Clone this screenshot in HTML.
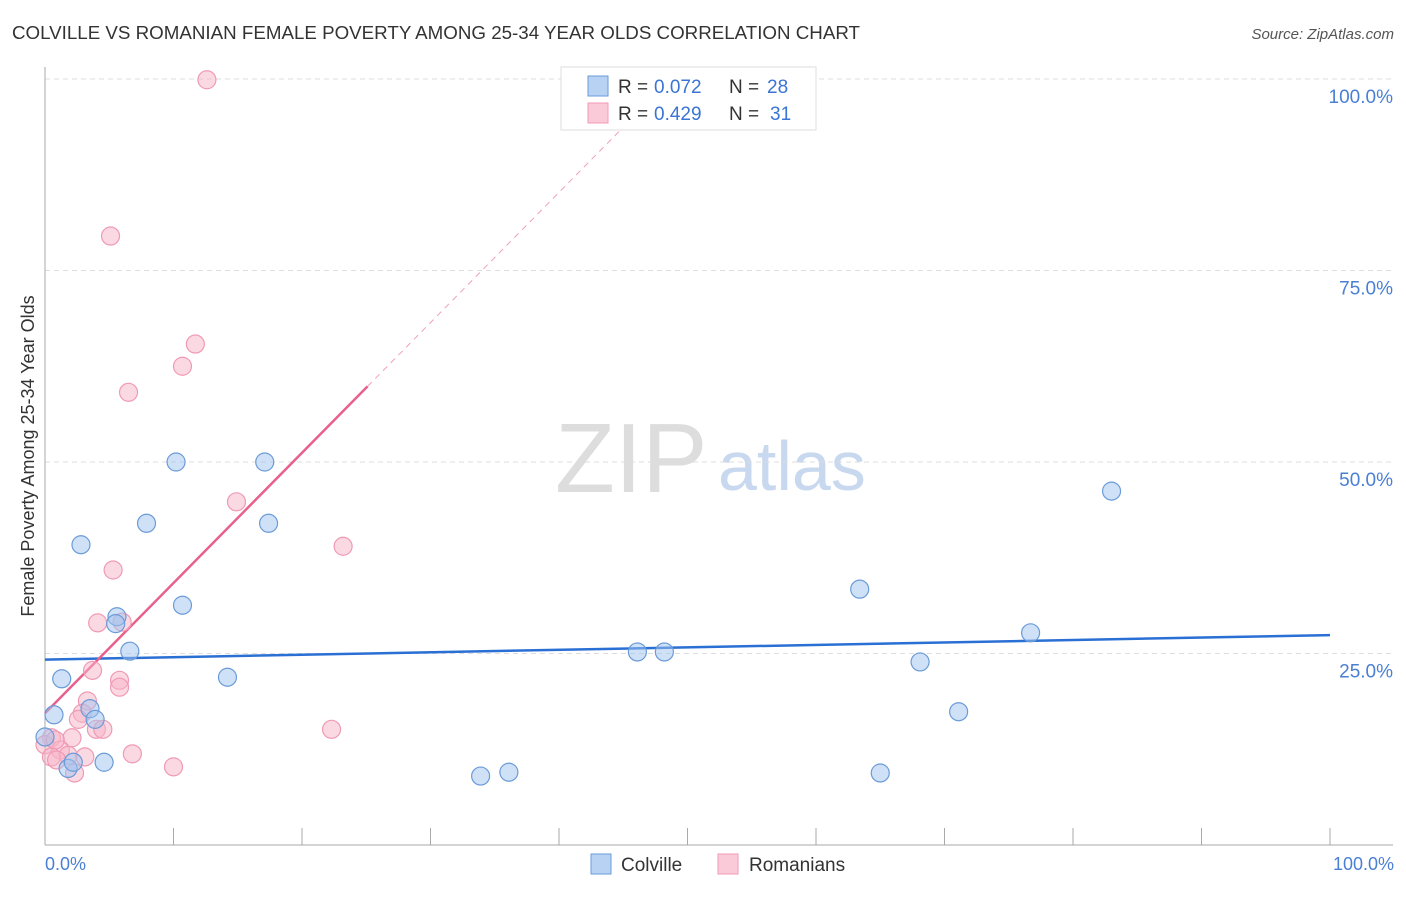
<!DOCTYPE html>
<html><head><meta charset="utf-8"><style>
body{margin:0;background:#fff;font-family:"Liberation Sans",sans-serif}
svg text{font-family:"Liberation Sans",sans-serif}
</style></head><body>
<svg width="1406" height="892" xmlns="http://www.w3.org/2000/svg">
<text x="12" y="39" font-size="18" fill="#333" textLength="848" lengthAdjust="spacingAndGlyphs">COLVILLE VS ROMANIAN FEMALE POVERTY AMONG 25-34 YEAR OLDS CORRELATION CHART</text>
<text x="1394" y="39" font-size="15" fill="#555" text-anchor="end" font-style="italic">Source: ZipAtlas.com</text>
<text x="555" y="492" font-size="98" fill="#ddd" font-family="Liberation Serif">ZIP</text>
<text x="718" y="490" font-size="70" fill="#c8d8ee">atlas</text>
<g id="grid"></g>
<g id="axes"></g>
<g id="trends"></g>
<g id="points"></g>
<text transform="translate(34,456) rotate(-90)" font-size="18" fill="#333" text-anchor="middle">Female Poverty Among 25-34 Year Olds</text>
<text x="45" y="870" font-size="18" fill="#4a7fd4">0.0%</text>
<text x="1394" y="870" font-size="18" fill="#4a7fd4" text-anchor="end">100.0%</text>
<g>
<rect x="561" y="67" width="255" height="63" fill="#fff" stroke="#ddd"/>
<rect x="588" y="76" width="20" height="20" fill="#b8d2f4" stroke="#6b9bd8"/>
<text x="618" y="93" font-size="19" fill="#333">R =</text>
<text x="654" y="93" font-size="19" fill="#3a74d4">0.072</text>
<text x="729" y="93" font-size="19" fill="#333">N =</text>
<text x="767" y="93" font-size="19" fill="#3a74d4">28</text>
<rect x="588" y="103" width="20" height="20" fill="#fbcad8" stroke="#f09ab5"/>
<text x="618" y="120" font-size="19" fill="#333">R =</text>
<text x="654" y="120" font-size="19" fill="#3a74d4">0.429</text>
<text x="729" y="120" font-size="19" fill="#333">N =</text>
<text x="770" y="120" font-size="19" fill="#3a74d4">31</text>
</g>
<g>
<rect x="591" y="854" width="20" height="20" fill="#b8d2f4" stroke="#6b9bd8"/>
<text x="621" y="871" font-size="19" fill="#333">Colville</text>
<rect x="718" y="854" width="20" height="20" fill="#fbcad8" stroke="#f09ab5"/>
<text x="749" y="871" font-size="19" fill="#333">Romanians</text>
</g>
</svg>
<script>
const yTicks=[25,50,75,100];
const yTickLabels=["25.0%","50.0%","75.0%","100.0%"];
const xTicks=[0,10,20,30,40,50,60,70,80,90,100];
const colvilleX=[2.8,1.3,0.7,0.0,1.8,2.2,3.5,3.9,4.6,5.6,5.5,6.6,7.9,10.2,10.7,14.2,17.1,17.4,33.9,36.1,46.1,48.2,63.4,65.0,68.1,71.1,76.7,83.0];
const colvilleY=[39.2,21.7,17.0,14.1,10.0,10.8,17.8,16.4,10.8,29.8,28.9,25.3,42.0,50.0,31.3,21.9,50.0,42.0,9.0,9.5,25.2,25.2,33.4,9.4,23.9,17.4,27.7,46.2];
const romX=[12.6,5.1,10.7,11.7,6.5,14.9,23.2,5.3,4.1,6.0,3.7,5.8,5.8,3.3,2.9,2.6,4.0,4.5,22.3,2.1,0.5,0.0,1.2,1.8,0.5,0.9,3.1,6.8,10.0,2.3,0.8];
const romY=[99.9,79.5,62.5,65.4,59.1,44.8,39.0,35.9,29.0,29.1,22.8,21.5,20.6,18.8,17.2,16.4,15.1,15.1,15.1,14.0,14.0,13.1,12.4,11.7,11.5,11.1,11.5,11.9,10.2,9.4,13.7];
const blueTrend=[24.2,27.4];
const pinkTrend=[17.2,1.70];
const NS="http://www.w3.org/2000/svg";
const sx=v=>45+v*12.85, sy=v=>845-v*7.66;
function mk(t,a,p){const e=document.createElementNS(NS,t);for(const k in a)e.setAttribute(k,a[k]);p.appendChild(e);return e;}
const grid=document.getElementById('grid');
yTicks.forEach((t,i)=>{
 const l=mk('line',{x1:45,x2:1393,y1:sy(t),y2:sy(t),stroke:'#ddd','stroke-dasharray':'5,4'},grid);
 
 
 const tx=mk('text',{x:1393,y:sy(t)+24,'font-size':19,fill:'#4a7fd4','text-anchor':'end'},grid);
 tx.textContent=yTickLabels[i];
 
 
});
const ax=document.getElementById('axes');
const ya=mk('line',{x1:45,x2:45,y1:67,y2:845,stroke:'#aaa'},ax);


const xa=mk('line',{x1:45,x2:1393,y1:845,y2:845,stroke:'#aaa'},ax);


xTicks.forEach(t=>{
 const l=mk('line',{x1:sx(t),x2:sx(t),y1:828,y2:845,stroke:'#aaa'},ax);
 
 
});
const pts=document.getElementById('points');
romX.forEach((x,i)=>{
 const c=mk('circle',{cx:sx(x),cy:sy(romY[i]),r:9,fill:'rgba(248,180,200,0.5)',stroke:'#f09ab5','stroke-width':1.2},pts);
 
 
});
colvilleX.forEach((x,i)=>{
 const c=mk('circle',{cx:sx(x),cy:sy(colvilleY[i]),r:9,fill:'rgba(160,196,240,0.5)',stroke:'#6b9bd8','stroke-width':1.2},pts);
 
 
});
const tr=document.getElementById('trends');
const bl=mk('line',{x1:sx(0),y1:sy(blueTrend[0]),x2:sx(100),y2:sy(blueTrend[1]),stroke:'#2a6fd4','stroke-width':2.5},tr);


const pe=25.1, pd=(100-pinkTrend[0])/pinkTrend[1];
const pl=mk('line',{x1:sx(0),y1:sy(pinkTrend[0]),x2:sx(pe),y2:sy(pinkTrend[0]+pinkTrend[1]*pe),stroke:'#e8608c','stroke-width':2.5},tr);


const pdl=mk('line',{x1:sx(pe),y1:sy(pinkTrend[0]+pinkTrend[1]*pe),x2:sx(pd),y2:sy(100),stroke:'#f0a0b8','stroke-width':1,'stroke-dasharray':'6,5'},tr);


</script>
</body></html>
